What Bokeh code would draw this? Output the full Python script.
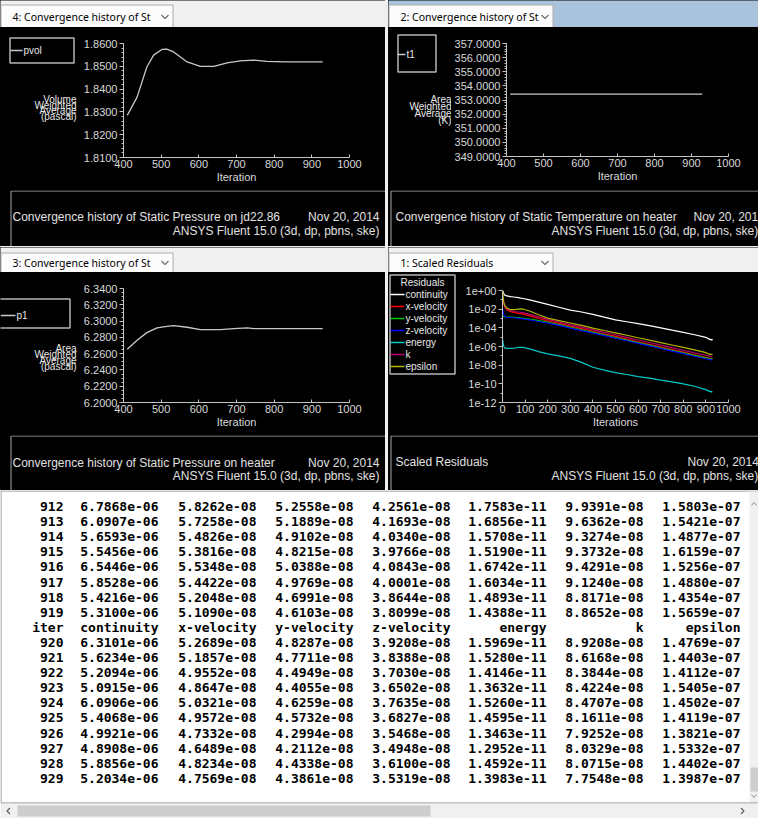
from bokeh.plotting import figure
from bokeh.layouts import column, row
from bokeh.models import (Range1d, FixedTicker, SingleIntervalTicker, NumeralTickFormatter,
                          CustomJSTickFormatter, Spacer, ColumnDataSource)
from bokeh.core.properties import value
from bokeh.embed import file_html
from bokeh.resources import INLINE

UI_FONT = "Noto Sans"
PLOT_FONT = "Liberation Sans"
MONO_FONT = "DejaVu Sans Mono"
FG = "#d8d8d8"
AXIS = "#c4c4c4"
PANEL_BG = "#f0f0f0"
ACTIVE_BG = "#a9c3dd"
BLACK = {"background-color": "#000000"}

# ---------------- surface monitors ----------------
pvol_iter = [410, 436, 462, 480, 502, 515, 533, 569, 604, 640, 675, 710, 746, 781, 826, 929]
pvol_value = [1.8285, 1.8365, 1.8497, 1.8549, 1.8574, 1.8575, 1.8563, 1.8519, 1.8500,
              1.8500, 1.8515, 1.8524, 1.8527, 1.8522, 1.8519, 1.8519]

t1_iter = [410, 500, 600, 700, 800, 929]
t1_value = [353.42, 353.42, 353.42, 353.42, 353.42, 353.42]

p1_iter = [410, 436, 462, 489, 515, 533, 569, 604, 657, 693, 728, 746, 929]
p1_value = [6.2653, 6.2764, 6.2858, 6.2916, 6.2936, 6.2944, 6.2924, 6.2895, 6.2895,
            6.2907, 6.2916, 6.2907, 6.2907]

# ---------------- residual history (before the printed block) ----------------
hist_iter = [1, 3, 6, 10, 20, 35, 50, 70, 90, 120, 160, 200, 250, 300, 350, 400,
             450, 500, 550, 600, 650, 700, 750, 800, 850, 900]
hist_continuity = [1.0e0, 7.1e-1, 4.5e-1, 3.2e-1, 2.6e-1, 2.2e-1, 2.0e-1, 1.7e-1, 1.4e-1,
                   1.0e-1, 5.6e-2, 3.2e-2, 1.6e-2, 7.9e-3, 5.0e-3, 2.8e-3, 1.4e-3, 7.1e-4,
                   4.5e-4, 2.8e-4, 1.7e-4, 1.0e-4, 5.6e-5, 3.2e-5, 1.8e-5, 9.5e-6]
hist_xvel = [1.5e-1, 8.0e-2, 3.5e-2, 1.8e-2, 8.0e-3, 5.5e-3, 4.5e-3, 3.6e-3, 2.9e-3, 1.9e-3,
             1.0e-3, 5.6e-4, 3.0e-4, 1.5e-4, 8.1e-5, 4.3e-5, 2.2e-5, 1.2e-5, 6.2e-6, 3.2e-6,
             1.7e-6, 8.9e-7, 4.7e-7, 2.5e-7, 1.3e-7, 6.9e-8]
hist_yvel = [1.8e-3, 1.7e-3, 1.6e-3, 1.5e-3, 1.45e-3, 1.4e-3, 1.35e-3, 1.2e-3, 1.05e-3, 8.5e-4,
             6.0e-4, 4.0e-4, 2.2e-4, 1.15e-4, 6.2e-5, 3.3e-5, 1.75e-5, 9.3e-6, 4.9e-6, 2.6e-6,
             1.4e-6, 7.4e-7, 3.9e-7, 2.1e-7, 1.1e-7, 6.0e-8]
hist_zvel = [1.0e-2, 5.0e-3, 2.5e-3, 1.6e-3, 1.3e-3, 1.25e-3, 1.2e-3, 1.05e-3, 9.0e-4, 7.0e-4,
             4.8e-4, 3.2e-4, 1.8e-4, 9.5e-5, 5.1e-5, 2.7e-5, 1.45e-5, 7.7e-6, 4.1e-6, 2.2e-6,
             1.15e-6, 6.1e-7, 3.2e-7, 1.7e-7, 9.1e-8, 4.9e-8]
hist_energy = [5.0e-6, 2.0e-6, 1.0e-6, 7.0e-7, 6.3e-7, 6.3e-7, 6.5e-7, 8.0e-7, 8.0e-7, 5.5e-7,
               2.8e-7, 1.6e-7, 1.0e-7, 5.4e-8, 2.0e-8, 6.0e-9, 3.0e-9, 1.6e-9, 1.0e-9, 6.0e-10,
               4.0e-10, 2.5e-10, 1.6e-10, 1.0e-10, 5.5e-11, 2.4e-11]
hist_k = [2.0e-1, 1.0e-1, 4.5e-2, 2.2e-2, 1.0e-2, 7.0e-3, 6.0e-3, 5.0e-3, 4.2e-3, 2.8e-3,
          1.5e-3, 8.0e-4, 4.2e-4, 2.2e-4, 1.2e-4, 6.3e-5, 3.3e-5, 1.8e-5, 9.5e-6, 5.0e-6,
          2.7e-6, 1.4e-6, 7.6e-7, 4.0e-7, 2.1e-7, 1.15e-7]
hist_epsilon = [9.0e-1, 1.6e-1, 5.0e-2, 2.5e-2, 1.3e-2, 9.0e-3, 8.9e-3, 1.0e-2, 1.05e-2, 6.3e-3,
                2.5e-3, 1.1e-3, 6.0e-4, 3.3e-4, 1.8e-4, 9.5e-5, 5.2e-5, 2.9e-5, 1.6e-5, 8.7e-6,
                4.8e-6, 2.6e-6, 1.45e-6, 8.0e-7, 4.4e-7, 2.2e-7]

# ---------------- console residual printout ----------------
table_iter = [912, 913, 914, 915, 916, 917, 918, 919, 920, 921, 922, 923, 924, 925, 926, 927, 928, 929]
table_continuity = [6.7868e-06, 6.0907e-06, 5.6593e-06, 5.5456e-06, 6.5446e-06, 5.8528e-06,
                    5.4216e-06, 5.3100e-06, 6.3101e-06, 5.6234e-06, 5.2094e-06, 5.0915e-06,
                    6.0906e-06, 5.4068e-06, 4.9921e-06, 4.8908e-06, 5.8856e-06, 5.2034e-06]
table_xvel = [5.8262e-08, 5.7258e-08, 5.4826e-08, 5.3816e-08, 5.5348e-08, 5.4422e-08,
              5.2048e-08, 5.1090e-08, 5.2689e-08, 5.1857e-08, 4.9552e-08, 4.8647e-08,
              5.0321e-08, 4.9572e-08, 4.7332e-08, 4.6489e-08, 4.8234e-08, 4.7569e-08]
table_yvel = [5.2558e-08, 5.1889e-08, 4.9102e-08, 4.8215e-08, 5.0388e-08, 4.9769e-08,
              4.6991e-08, 4.6103e-08, 4.8287e-08, 4.7711e-08, 4.4949e-08, 4.4055e-08,
              4.6259e-08, 4.5732e-08, 4.2994e-08, 4.2112e-08, 4.4338e-08, 4.3861e-08]
table_zvel = [4.2561e-08, 4.1693e-08, 4.0340e-08, 3.9766e-08, 4.0843e-08, 4.0001e-08,
              3.8644e-08, 3.8099e-08, 3.9208e-08, 3.8388e-08, 3.7030e-08, 3.6502e-08,
              3.7635e-08, 3.6827e-08, 3.5468e-08, 3.4948e-08, 3.6100e-08, 3.5319e-08]
table_energy = [1.7583e-11, 1.6856e-11, 1.5708e-11, 1.5190e-11, 1.6742e-11, 1.6034e-11,
                1.4893e-11, 1.4388e-11, 1.5969e-11, 1.5280e-11, 1.4146e-11, 1.3632e-11,
                1.5260e-11, 1.4595e-11, 1.3463e-11, 1.2952e-11, 1.4592e-11, 1.3983e-11]
table_k = [9.9391e-08, 9.6362e-08, 9.3274e-08, 9.3732e-08, 9.4291e-08, 9.1240e-08,
           8.8171e-08, 8.8652e-08, 8.9208e-08, 8.6168e-08, 8.3844e-08, 8.4224e-08,
           8.4707e-08, 8.1611e-08, 7.9252e-08, 8.0329e-08, 8.0715e-08, 7.7548e-08]
table_epsilon = [1.5803e-07, 1.5421e-07, 1.4877e-07, 1.6159e-07, 1.5256e-07, 1.4880e-07,
                 1.4354e-07, 1.5659e-07, 1.4769e-07, 1.4403e-07, 1.4112e-07, 1.5405e-07,
                 1.4502e-07, 1.4119e-07, 1.3821e-07, 1.5332e-07, 1.4402e-07, 1.3987e-07]

residual_names = ["continuity", "x-velocity", "y-velocity", "z-velocity", "energy", "k", "epsilon"]
residual_colors = ["#ffffff", "#ff0000", "#00c800", "#0000ff", "#00c8c8", "#b8006e", "#b4b400"]
residual_hist = [hist_continuity, hist_xvel, hist_yvel, hist_zvel, hist_energy, hist_k, hist_epsilon]
residual_table = [table_continuity, table_xvel, table_yvel, table_zvel, table_energy, table_k, table_epsilon]
table_header = ["iter"] + residual_names
header_after_row = 8  # column titles are reprinted after iteration 919


def unalign(p):
    try:
        p.frame_align = False
    except AttributeError:
        pass
    return p


def blank(x0, y0, w, h, bg):
    """Figure whose data space is the page's pixel space (y downwards)."""
    p = figure(width=w, height=h, x_range=Range1d(x0, x0 + w), y_range=Range1d(y0 + h, y0),
               x_axis_location=None, y_axis_location=None, toolbar_location=None,
               output_backend="svg", min_border=0, outline_line_color=None,
               background_fill_color=bg, border_fill_color=bg)
    p.grid.visible = False
    return unalign(p)


def header(x0, y0, w, h, tab_w, title, band, tab_top, text_y):
    p = blank(x0, y0, w, h, band)
    p.quad(left=[x0 + 0.5], right=[x0 + tab_w + 0.5], top=[y0 + tab_top + 0.5], bottom=[y0 + h + 1],
           fill_color="#fcfcfc", line_color="#adadad", line_width=1)
    cy = y0 + text_y
    p.text(x=[x0 + 12], y=[cy], text=[title], text_font=value(UI_FONT), text_font_size="10.5px",
           text_color="#000000", text_baseline="middle")
    cx = x0 + tab_w - 7.5
    p.line([cx - 3.5, cx, cx + 3.5], [cy - 1.5, cy + 2, cy - 1.5], line_color="#707070", line_width=1.2)
    return p


def caption(x0, y0, w, h, box_left, items):
    p = blank(x0, y0, w, h, "#000000")
    p.quad(left=[box_left + 0.5], right=[x0 + w + 10], top=[y0 + 0.5], bottom=[y0 + h + 10],
           fill_color=None, line_color="#a8a8a8", line_width=1)
    for tx, ty, s, align in items:
        p.text(x=[tx], y=[ty], text=[s], text_font=value(PLOT_FONT), text_font_size="12px",
               text_color="#e0e0e0", text_align=align, text_baseline="middle")
    return p


def side(x0, y0, w, h, title_x, title_ys, words, legend_box, entries):
    """Black strip left of a monitor: legend box and stacked y-axis title."""
    p = blank(x0, y0, w, h, "#000000")
    l, r, t, b = legend_box
    p.quad(left=[l], right=[r], top=[t], bottom=[b], fill_color=None,
           line_color="#b4b4b4", line_width=1.5)
    for yy, wd in zip(title_ys, words):
        p.text(x=[title_x], y=[yy], text=[wd], text_font=value(PLOT_FONT), text_font_size="10px",
               text_color="#e8e8e8", text_align="right", text_baseline="middle")
    for (lx0, lx1, ly, label, color) in entries:
        p.line([lx0, lx1], [ly, ly], line_color=color, line_width=1.3)
        p.text(x=[lx1 + 1], y=[ly], text=[label], text_font=value(PLOT_FONT), text_font_size="10px",
               text_color="#e8e8e8", text_baseline="middle")
    return p


def monitor(w, h, xr, yr, borders, xlabel="Iteration", ylog=False):
    left, right, top, bottom = borders
    p = figure(width=w, height=h, x_range=Range1d(*xr), y_range=Range1d(*yr),
               y_axis_type="log" if ylog else "linear", toolbar_location=None,
               output_backend="svg", min_border_left=left, min_border_right=right,
               min_border_top=top, min_border_bottom=bottom,
               background_fill_color="#000000", border_fill_color="#000000",
               outline_line_color=None)
    unalign(p)
    p.grid.visible = False
    for ax in (p.xaxis[0], p.yaxis[0]):
        ax.axis_line_color = AXIS
        ax.major_tick_line_color = AXIS
        ax.minor_tick_line_color = AXIS
        ax.major_label_text_color = FG
        ax.major_label_text_font = PLOT_FONT
        ax.major_label_text_font_size = "11px"
    xa = p.xaxis[0]
    xa.ticker = SingleIntervalTicker(interval=100, num_minor_ticks=0)
    xa.major_tick_in = 3
    xa.major_tick_out = 0
    xa.major_label_standoff = 2
    xa.axis_label = xlabel
    xa.axis_label_standoff = 0
    xa.axis_label_text_color = FG
    xa.axis_label_text_font = PLOT_FONT
    xa.axis_label_text_font_size = "11px"
    xa.axis_label_text_font_style = "normal"
    ya = p.yaxis[0]
    ya.major_tick_in = 0
    ya.major_tick_out = 4
    ya.minor_tick_in = 0
    ya.minor_tick_out = 2
    ya.major_label_standoff = 2
    return p


# ---------------- panel 4: pvol ----------------
tl_plot = monitor(307, 163, (400, 1000), (1.81, 1.86), (45, 36, 16, 33))
tl_plot.yaxis[0].ticker = SingleIntervalTicker(interval=0.01, num_minor_ticks=5)
tl_plot.yaxis[0].formatter = NumeralTickFormatter(format="0.0000")
tl_plot.line(pvol_iter, pvol_value, line_color="#c8c8c8", line_width=1.3)
tl_side = side(0, 27, 78, 163, 76, [99, 104.5, 110, 115.5],
               ["Volume", "Weighted", "Average", "(pascal)"],
               (9.5, 73.5, 37.5, 62.5), [(10, 22, 50, "pvol", "#c8c8c8")])

tl = column(
    header(0, 0, 385, 27, 172, "4: Convergence history of St", PANEL_BG, 4, 16),
    row(tl_side, tl_plot, styles=BLACK),
    caption(0, 190, 385, 56, 10, [
        (12, 216, "Convergence history of Static Pressure on jd22.86", "left"),
        (379, 216, "Nov 20, 2014", "right"),
        (379, 230, "ANSYS Fluent 15.0 (3d, dp, pbns, ske)", "right")]),
    styles=BLACK,
)

# ---------------- panel 2: t1 ----------------
tr_plot = monitor(307, 163, (400, 1000), (349, 357), (52, 30, 16, 34))
tr_plot.yaxis[0].ticker = SingleIntervalTicker(interval=1, num_minor_ticks=5)
tr_plot.yaxis[0].formatter = NumeralTickFormatter(format="0.0000")
tr_plot.line(t1_iter, t1_value, line_color="#c8c8c8", line_width=1.3)
tr_side = side(388, 27, 63, 163, 451, [99, 106, 113, 120],
               ["Area", "Weighted", "Average", "(K)"],
               (397.5, 435.5, 34.5, 71.5), [(397, 405, 54, "t1", "#c8c8c8")])

tr = column(
    header(388, 0, 370, 27, 164, "2: Convergence history of St", ACTIVE_BG, 4, 16),
    row(tr_side, tr_plot, styles=BLACK),
    caption(388, 190, 370, 56, 390, [
        (395, 216, "Convergence history of Static Temperature on heater", "left"),
        (693, 216, "Nov 20, 2014", "left"),
        (551, 230, "ANSYS Fluent 15.0 (3d, dp, pbns, ske)", "left")]),
    styles=BLACK,
)

# ---------------- panel 3: p1 ----------------
bl_plot = monitor(307, 163, (400, 1000), (6.20, 6.34), (45, 36, 16, 33))
bl_plot.yaxis[0].ticker = SingleIntervalTicker(interval=0.02, num_minor_ticks=4)
bl_plot.yaxis[0].formatter = NumeralTickFormatter(format="0.0000")
bl_plot.line(p1_iter, p1_value, line_color="#c8c8c8", line_width=1.3)
bl_side = side(0, 272, 78, 163, 76, [348, 354, 360, 366],
               ["Area", "Weighted", "Average", "(pascal)"],
               (-3, 69.5, 298.5, 327.5), [(0, 15, 315, "p1", "#c8c8c8")])

bl = column(
    header(0, 247, 385, 25, 172, "3: Convergence history of St", PANEL_BG, 5, 15),
    row(bl_side, bl_plot, styles=BLACK),
    caption(0, 435, 385, 55, 10, [
        (12, 462, "Convergence history of Static Pressure on heater", "left"),
        (379, 462, "Nov 20, 2014", "right"),
        (379, 475, "ANSYS Fluent 15.0 (3d, dp, pbns, ske)", "right")]),
    styles=BLACK,
)

# ---------------- panel 1: scaled residuals ----------------
br_plot = monitor(302, 163, (0, 1000), (1e-12, 1.0), (46, 30, 18, 33),
                  xlabel="Iterations", ylog=True)
br_plot.yaxis[0].ticker = FixedTicker(ticks=[1e-12, 1e-10, 1e-8, 1e-6, 1e-4, 1e-2, 1.0],
                                      minor_ticks=[1e-11, 1e-9, 1e-7, 1e-5, 1e-3, 1e-1])
br_plot.yaxis[0].formatter = CustomJSTickFormatter(code="""
    const e = Math.round(Math.log10(tick));
    const a = Math.abs(e);
    return '1e' + (e < 0 ? '-' : '+') + (a < 10 ? '0' + a : '' + a);
""")
res_iter = hist_iter + table_iter
for name, color, hist, tail in zip(residual_names, residual_colors, residual_hist, residual_table):
    br_plot.line(res_iter, hist + tail, line_color=color, line_width=1.2)

br_entries = [(390, 404, 294 + 12 * i, n, c) for i, (n, c) in enumerate(zip(residual_names, residual_colors))]
br_side = side(388, 272, 68, 163, 0, [], [], (389.5, 454.5, 274.5, 373.5), br_entries)
br_side.text(x=[422], y=[282], text=["Residuals"], text_font=value(PLOT_FONT), text_font_size="10px",
             text_color="#e8e8e8", text_align="center", text_baseline="middle")

br = column(
    header(388, 247, 370, 25, 164, "1: Scaled Residuals", PANEL_BG, 5, 15),
    row(br_side, br_plot, styles=BLACK),
    caption(388, 435, 370, 55, 390, [
        (395, 461, "Scaled Residuals", "left"),
        (687, 461, "Nov 20, 2014", "left"),
        (551, 475, "ANSYS Fluent 15.0 (3d, dp, pbns, ske)", "left")]),
    styles=BLACK,
)

# ---------------- console table ----------------
tbl = blank(0, 490, 758, 328, "#ffffff")
col_right = [63, 158, 256, 353, 450, 546, 643, 740]
cells_x, cells_y, cells_t = [], [], []
lines = []
for i, it in enumerate(table_iter):
    if i == header_after_row:
        lines.append(table_header)
    lines.append([str(it)] + ["%.4e" % col[i] for col in residual_table])
for r, cells in enumerate(lines):
    for c, s in enumerate(cells):
        cells_x.append(col_right[c])
        cells_y.append(506 + 15.1 * r)
        cells_t.append(s)
tbl.text(x="x", y="y", text="t", source=ColumnDataSource(dict(x=cells_x, y=cells_y, t=cells_t)),
         text_font=value(MONO_FONT), text_font_size="13px", text_font_style="bold",
         text_color="#000000", text_align="right", text_baseline="middle")
# list box border and scroll bars
tbl.line([0, 758], [490.5, 490.5], line_color="#828790", line_width=1)
tbl.line([0.5, 0.5], [490, 802], line_color="#828790", line_width=1)
tbl.quad(left=[749], right=[758], top=[491], bottom=[802], fill_color=PANEL_BG, line_color=None)
tbl.quad(left=[750], right=[758], top=[767], bottom=[791], fill_color="#cdcdcd", line_color=None)
tbl.line([751, 753.5, 756], [505, 502, 505], line_color="#909090", line_width=1)
tbl.line([751, 753.5, 756], [794, 797, 794], line_color="#909090", line_width=1)
tbl.line([0, 758], [802.5, 802.5], line_color="#828790", line_width=1)
tbl.quad(left=[0], right=[758], top=[803], bottom=[818], fill_color=PANEL_BG, line_color=None)
tbl.quad(left=[17], right=[430], top=[805], bottom=[816], fill_color="#cdcdcd", line_color=None)
tbl.line([9.5, 6.5, 9.5], [807.5, 810.5, 813.5], line_color="#606060", line_width=1.2)
tbl.line([740.5, 743.5, 740.5], [807.5, 810.5, 813.5], line_color="#606060", line_width=1.2)

gap_style = {"background-color": PANEL_BG}
page = column(
    row(tl, Spacer(width=3, height=246, styles=gap_style), tr),
    Spacer(width=758, height=1, styles=gap_style),
    row(bl, Spacer(width=3, height=243, styles=gap_style), br),
    tbl,
)

open("out.html", "w").write(file_html(page, INLINE))
